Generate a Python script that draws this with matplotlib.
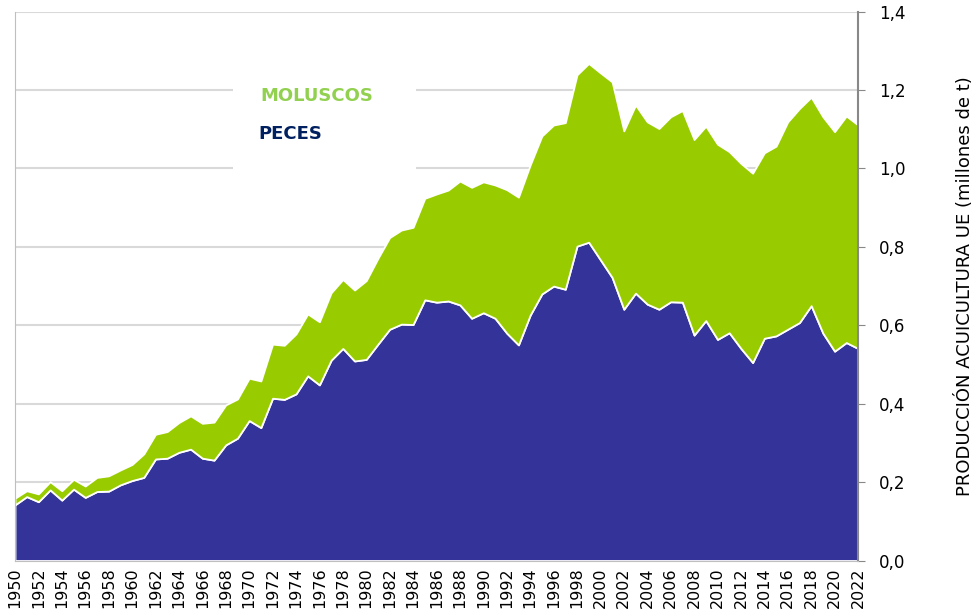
import numpy as np
import matplotlib
matplotlib.use("Agg")
import matplotlib.pyplot as plt
from matplotlib.patches import Rectangle
from matplotlib.ticker import FuncFormatter, MultipleLocator

years = np.arange(1950, 2023)

# millones de t
peces = [
    0.142, 0.163, 0.150, 0.180, 0.154, 0.182, 0.161, 0.176, 0.177, 0.193,
    0.204, 0.212, 0.259, 0.261, 0.276, 0.284, 0.261, 0.256, 0.295, 0.312,
    0.357, 0.339, 0.414, 0.411, 0.425, 0.471, 0.448, 0.511, 0.541, 0.509,
    0.513, 0.552, 0.590, 0.603, 0.602, 0.665, 0.659, 0.662, 0.652, 0.618,
    0.632, 0.618, 0.580, 0.550, 0.626, 0.680, 0.700, 0.692, 0.802, 0.812,
    0.767, 0.722, 0.641, 0.682, 0.654, 0.641, 0.660, 0.659, 0.575, 0.612,
    0.564, 0.581, 0.541, 0.505, 0.567, 0.573, 0.590, 0.607, 0.650, 0.580,
    0.534, 0.556, 0.541,
]
moluscos = [
    0.017, 0.015, 0.020, 0.021, 0.024, 0.025, 0.029, 0.036, 0.039, 0.038,
    0.041, 0.060, 0.063, 0.068, 0.076, 0.085, 0.089, 0.097, 0.102, 0.100,
    0.108, 0.119, 0.138, 0.138, 0.153, 0.158, 0.161, 0.172, 0.176, 0.181,
    0.201, 0.219, 0.234, 0.240, 0.248, 0.259, 0.276, 0.283, 0.316, 0.334,
    0.334, 0.340, 0.366, 0.377, 0.383, 0.403, 0.411, 0.425, 0.437, 0.456,
    0.477, 0.499, 0.455, 0.480, 0.465, 0.461, 0.472, 0.489, 0.499, 0.496,
    0.498, 0.462, 0.472, 0.483, 0.473, 0.484, 0.529, 0.546, 0.532, 0.552,
    0.560, 0.578, 0.570,
]

labels = ["PECES", "MOLUSCOS"]
colors = ["#333399", "#99CC00"]
text_colors = ["#002060", "#92D050"]

fig = plt.figure(figsize=(9.79, 6.16), dpi=100)
ax = fig.add_axes([15 / 979, 55.5 / 616, 843 / 979, 548.8 / 616])

ax.stackplot(years, peces, moluscos, colors=colors,
             edgecolor="white", linewidth=1.3, zorder=2)

ax.set_xlim(1950, 2022)
ax.set_ylim(0, 1.4)
ax.yaxis.set_major_locator(MultipleLocator(0.2))
ax.yaxis.set_major_formatter(FuncFormatter(lambda v, p: f"{v:.1f}".replace(".", ",")))
ax.yaxis.tick_right()
ax.yaxis.set_label_position("right")
ax.set_xticks(years[::2])
ax.tick_params(axis="x", labelrotation=90, length=0, labelsize=11.5, pad=5)
ax.tick_params(axis="y", length=5, color="#888888", labelsize=12, pad=10)
ax.grid(axis="y", color="#d9d9d9", linewidth=1.5, zorder=0)
ax.set_axisbelow(True)

for side in ["left", "bottom"]:
    ax.spines[side].set_color("#bfbfbf")
ax.spines["right"].set_color("#888888")
ax.spines["right"].set_linewidth(1.5)
ax.spines["top"].set_visible(False)

ax.set_ylabel("PRODUCCIÓN ACUICULTURA UE (millones de t)", fontsize=13, labelpad=36)

# legend: white box with coloured labels only
ax.add_patch(Rectangle((0.2586, 0.69), 0.2171, 0.23, transform=ax.transAxes,
                       facecolor="white", edgecolor="none", zorder=1))
ax.text(0.2906, 0.846, labels[1], transform=ax.transAxes, color=text_colors[1],
        fontsize=13, fontweight="bold", va="center", zorder=3)
ax.text(0.2886, 0.777, labels[0], transform=ax.transAxes, color=text_colors[0],
        fontsize=13, fontweight="bold", va="center", zorder=3)

fig.savefig("out.png", dpi=100)
